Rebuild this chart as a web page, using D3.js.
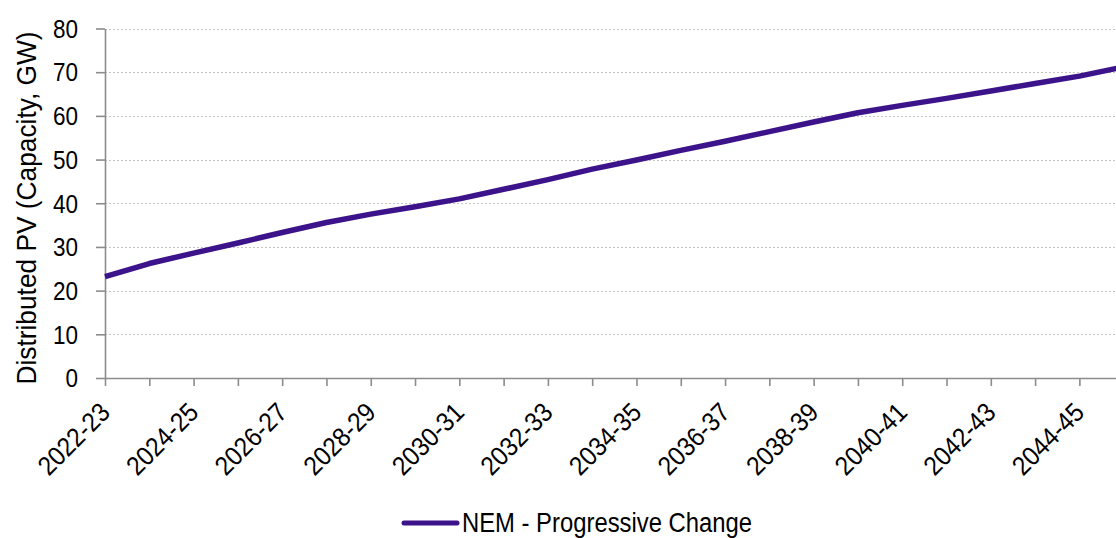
<!DOCTYPE html>
<html>
<head>
<meta charset="utf-8">
<script src="https://cdn.jsdelivr.net/npm/d3@7"></script>
<style>
  html, body { margin: 0; padding: 0; background: #fff; }
  svg { display: block; font-family: "Liberation Sans", Arial, sans-serif; }
</style>
</head>
<body>
<svg id="chart" width="1116" height="538"></svg>
<script>
// Financial years on the category axis
const years = [
  "2022-23","2023-24","2024-25","2025-26","2026-27","2027-28","2028-29","2029-30",
  "2030-31","2031-32","2032-33","2033-34","2034-35","2035-36","2036-37","2037-38",
  "2038-39","2039-40","2040-41","2041-42","2042-43","2043-44","2044-45","2045-46"
];
// Distributed PV capacity (GW), NEM - Progressive Change
const capacityGW = [
  23.2, 26.2, 28.6, 30.9, 33.3, 35.6, 37.5, 39.2,
  41.0, 43.2, 45.4, 47.8, 49.9, 52.1, 54.2, 56.4,
  58.6, 60.7, 62.4, 64.0, 65.7, 67.4, 69.1, 71.2
];
const yTicks = [0, 10, 20, 30, 40, 50, 60, 70, 80];
const labelledYears = years.filter((d, i) => i % 2 === 0);
const seriesName = "NEM - Progressive Change";
const yTitle = "Distributed PV (Capacity, GW)";

const lineColor = "#3c138a";
const axisColor = "#8c8c8c";
const gridColor = "#c4c4c4";

const svg = d3.select("#chart");

const plot = { left: 105, top: 28.5, bottom: 378, step: 44.29 };

const x = d3.scalePoint()
  .domain(years)
  .range([plot.left, plot.left + plot.step * (years.length - 1)]);

const y = d3.scaleLinear()
  .domain([0, 80])
  .range([plot.bottom, plot.top]);

// Dotted horizontal gridlines
svg.append("g")
  .selectAll("line")
  .data(yTicks.filter(d => d > 0))
  .join("line")
  .attr("x1", plot.left)
  .attr("x2", 1116)
  .attr("y1", d => Math.round(y(d)) + 0.5)
  .attr("y2", d => Math.round(y(d)) + 0.5)
  .attr("stroke", gridColor)
  .attr("stroke-width", 1)
  .attr("stroke-dasharray", "2,2");

// Y axis
const yScaleX = 0.9;
const yAxis = svg.append("g")
  .attr("transform", `translate(${plot.left},0)`)
  .call(d3.axisLeft(y).tickValues(yTicks).tickSize(9).tickSizeOuter(0));
yAxis.select(".domain").attr("stroke", axisColor).attr("stroke-width", 1.6);
yAxis.selectAll(".tick line").attr("stroke", axisColor).attr("stroke-width", 1.6);
yAxis.selectAll(".tick text")
  .attr("fill", "#000")
  .attr("font-size", 25)
  .attr("font-family", "Liberation Sans, Arial, sans-serif")
  .attr("x", -27 / yScaleX)
  .attr("dy", "0.35em")
  .attr("transform", `scale(${yScaleX},1)`);

// X axis: a tick on every year, a label on every second year
const xScaleX = 0.915;
const xAxis = svg.append("g")
  .attr("transform", `translate(0,${plot.bottom})`)
  .call(d3.axisBottom(x).tickSize(8).tickSizeOuter(0)
    .tickFormat(d => labelledYears.includes(d) ? d : ""));
xAxis.select(".domain")
  .attr("stroke", axisColor).attr("stroke-width", 1.6)
  .attr("d", `M${plot.left},0.5H1130`);
xAxis.selectAll(".tick line").attr("stroke", axisColor).attr("stroke-width", 1.6);
xAxis.selectAll(".tick text")
  .attr("fill", "#000")
  .attr("font-size", 26.5)
  .attr("font-family", "Liberation Sans, Arial, sans-serif")
  .attr("text-anchor", "end")
  .attr("x", 0).attr("y", 0).attr("dy", 0)
  .attr("transform", `translate(6,36) rotate(-45) scale(${xScaleX},1)`);

// Y axis title
svg.append("text")
  .attr("transform", "translate(35.5,208) rotate(-90) scale(0.974,1)")
  .attr("text-anchor", "middle")
  .attr("font-size", 27)
  .attr("fill", "#000")
  .text(yTitle);

// Series line
const line = d3.line()
  .x((d, i) => x(years[i]))
  .y(d => y(d));

svg.append("path")
  .datum(capacityGW)
  .attr("fill", "none")
  .attr("stroke", lineColor)
  .attr("stroke-width", 5.5)
  .attr("stroke-linejoin", "round")
  .attr("d", line);

// Legend
const legend = svg.append("g");
legend.append("line")
  .attr("x1", 404).attr("x2", 457)
  .attr("y1", 523).attr("y2", 523)
  .attr("stroke", lineColor)
  .attr("stroke-width", 5)
  .attr("stroke-linecap", "round");
legend.append("text")
  .attr("transform", "translate(462,532) scale(0.867,1)")
  .attr("font-size", 27.5)
  .attr("fill", "#000")
  .text(seriesName);
</script>
</body>
</html>
